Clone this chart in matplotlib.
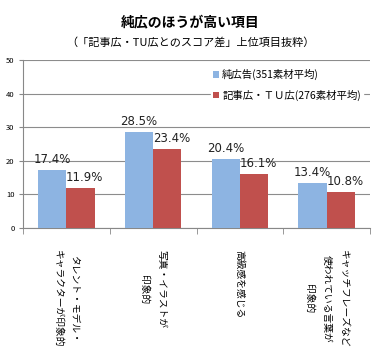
import numpy as np
import matplotlib.pyplot as plt

plt.rcParams['font.family'] = ['Noto Sans CJK JP', 'DejaVu Sans']

# Data
categories = ['タレント・モデル・\nキャラクターが印象的', '写真・イラストが\n印象的',
              '高級感を感じる', 'キャッチフレーズなど\n使われている言葉が\n印象的']
pure_ad = [17.4, 28.5, 20.4, 13.4]
article_ad = [11.9, 23.4, 16.1, 10.8]
series_names = ['純広告(351素材平均)', '記事広・ＴＵ広(276素材平均)']
yticks = [0, 10, 20, 30, 40, 50]

fig = plt.figure(figsize=(3.81, 3.53), dpi=100)
ax = fig.add_axes([23 / 381, 1 - 228 / 353, 347 / 381, 168 / 353])

x = np.arange(len(categories))
w = 0.325
b1 = ax.bar(x - w / 2, pure_ad, w, color='#8DB4E2', label=series_names[0], zorder=3)
b2 = ax.bar(x + w / 2, article_ad, w, color='#C0504D', label=series_names[1], zorder=3)

for rect, v in zip(b1, pure_ad):
    ax.text(rect.get_x() + rect.get_width() / 2, v + 1.2, f'{v:.1f}%',
            ha='center', va='bottom', fontsize=8.5, family='DejaVu Sans', color='#222222', zorder=4)
for rect, v in zip(b2, article_ad):
    ax.text(rect.get_x() + rect.get_width() / 2 + 0.05, v + 1.2, f'{v:.1f}%',
            ha='center', va='bottom', fontsize=8.5, family='DejaVu Sans', color='#222222', zorder=4)

ax.set_xlim(-0.5, len(categories) - 0.5)
ax.set_ylim(0, 50)
ax.set_yticks(yticks)
ax.tick_params(axis='y', labelsize=5.5, length=3, color='#888888', pad=3)
ax.yaxis.grid(True, color='#8C8C8C', linewidth=0.8, zorder=0)

ax.set_xticks(x)
ax.set_xticklabels(categories, rotation=-90, fontsize=7, va='top', ha='center', linespacing=1.9)
ax.tick_params(axis='x', length=0, pad=16)
ax.set_xticks(np.arange(len(categories) + 1) - 0.5, minor=True)
ax.tick_params(axis='x', which='minor', length=4, color='#888888')

for s in ['top', 'right']:
    ax.spines[s].set_visible(False)
for s in ['left', 'bottom']:
    ax.spines[s].set_color('#888888')

leg = ax.legend(loc='upper right', bbox_to_anchor=(0.995, 0.99), frameon=True, fontsize=7.5,
                handlelength=0.6, handleheight=0.6, handletextpad=0.3, labelspacing=0.9,
                borderpad=0.2, fancybox=False)
leg.get_frame().set_edgecolor('white')
leg.get_frame().set_facecolor('white')
leg.get_frame().set_alpha(1)
leg.set_zorder(5)

fig.text(0.5, 1 - 22 / 353, '純広のほうが高い項目', ha='center', va='center',
         fontsize=10, fontweight='bold')
fig.text(0.5, 1 - 42 / 353, '（「記事広・TU広とのスコア差」上位項目抜粋）', ha='center', va='center',
         fontsize=8)

fig.savefig('out.png', dpi=100)
